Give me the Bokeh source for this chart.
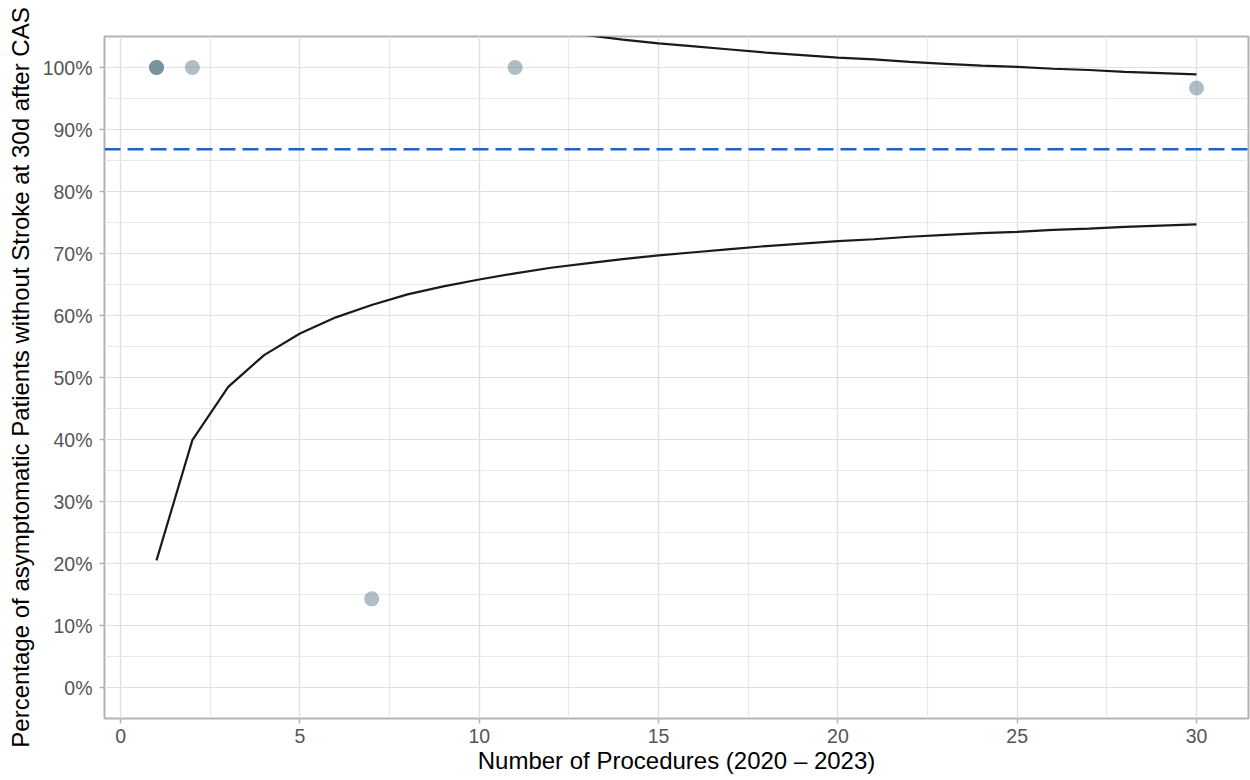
from bokeh.plotting import figure
from bokeh.models import Range1d, SingleIntervalTicker, PrintfTickFormatter, Span, ColumnDataSource
from bokeh.embed import file_html
from bokeh.resources import INLINE

# ---- data ----
hosp_n = [1, 1, 1, 2, 7, 11, 30]
hosp_pct = [100.0, 100.0, 100.0, 100.0, 14.3, 100.0, 96.7]

funnel_n = [1, 2, 3, 4, 5, 6, 7, 8, 9, 10, 11, 12, 13, 14, 15,
            16, 17, 18, 19, 20, 21, 22, 23, 24, 25, 26, 27, 28, 29, 30]
lower_pct = [20.5, 39.9, 48.5, 53.6, 57.1, 59.7, 61.7, 63.4, 64.7, 65.8,
             66.8, 67.7, 68.4, 69.1, 69.7, 70.2, 70.7, 71.2, 71.6, 72.0,
             72.3, 72.7, 73.0, 73.3, 73.5, 73.8, 74.0, 74.3, 74.5, 74.7]
upper_pct = [153.1, 133.7, 125.1, 120.0, 116.5, 113.9, 111.9, 110.3, 108.9, 107.8,
             106.8, 105.9, 105.2, 104.5, 103.9, 103.4, 102.9, 102.4, 102.0, 101.6,
             101.3, 100.9, 100.6, 100.3, 100.1, 99.8, 99.6, 99.3, 99.1, 98.9]
target_pct = 86.8

x_title = "Number of Procedures (2020 \u2013 2023)"
y_title = "Percentage of asymptomatic Patients without Stroke at 30d after CAS"

FONT = "Liberation Sans"

p = figure(width=1250, height=780, output_backend="svg", toolbar_location=None,
           x_range=Range1d(-0.45, 31.45), y_range=Range1d(-5, 105))
p.min_border_left = 104
p.min_border_right = 2
p.min_border_top = 36
p.min_border_bottom = 62
p.background_fill_color = "white"
p.border_fill_color = "white"
p.outline_line_color = "#b3b3b3"
p.outline_line_width = 2

p.xaxis.ticker = SingleIntervalTicker(interval=5, num_minor_ticks=2)
p.yaxis.ticker = SingleIntervalTicker(interval=10, num_minor_ticks=2)
p.yaxis.formatter = PrintfTickFormatter(format="%d%%")

for ax in (p.xaxis, p.yaxis):
    ax.axis_line_color = None
    ax.major_tick_line_color = "#b3b3b3"
    ax.major_tick_line_width = 1.5
    ax.major_tick_out = 5
    ax.major_tick_in = 0
    ax.minor_tick_line_color = None
    ax.major_label_text_font = FONT
    ax.major_label_text_font_size = "19.5px"
    ax.major_label_text_color = "#555555"
    ax.axis_label_text_font = FONT
    ax.axis_label_text_font_size = "24px"
    ax.axis_label_text_font_style = "normal"
    ax.axis_label_text_color = "black"

p.xaxis.axis_label = x_title
p.yaxis.axis_label = y_title
p.xaxis.major_label_standoff = 5
p.xaxis.axis_label_standoff = 1
p.yaxis.major_label_standoff = 7
p.yaxis.axis_label_standoff = 6

for g in (p.xgrid, p.ygrid):
    g.grid_line_color = "#e0e0e0"
    g.grid_line_width = 1.2
    g.minor_grid_line_color = "#e8e8e8"
    g.minor_grid_line_width = 1.2

p.add_layout(Span(location=target_pct, dimension="width", line_color="#1f63c6",
                  line_width=2.5, line_dash="16 7"))

p.line(funnel_n, lower_pct, line_color="#1a1a1a", line_width=2.2)
p.line(funnel_n, upper_pct, line_color="#1a1a1a", line_width=2.2)

src = ColumnDataSource(dict(x=hosp_n, y=hosp_pct))
p.scatter("x", "y", source=src, size=15, fill_color="#6e8794", line_color=None,
          fill_alpha=0.55)

open("out.html", "w").write(file_html(p, INLINE))
